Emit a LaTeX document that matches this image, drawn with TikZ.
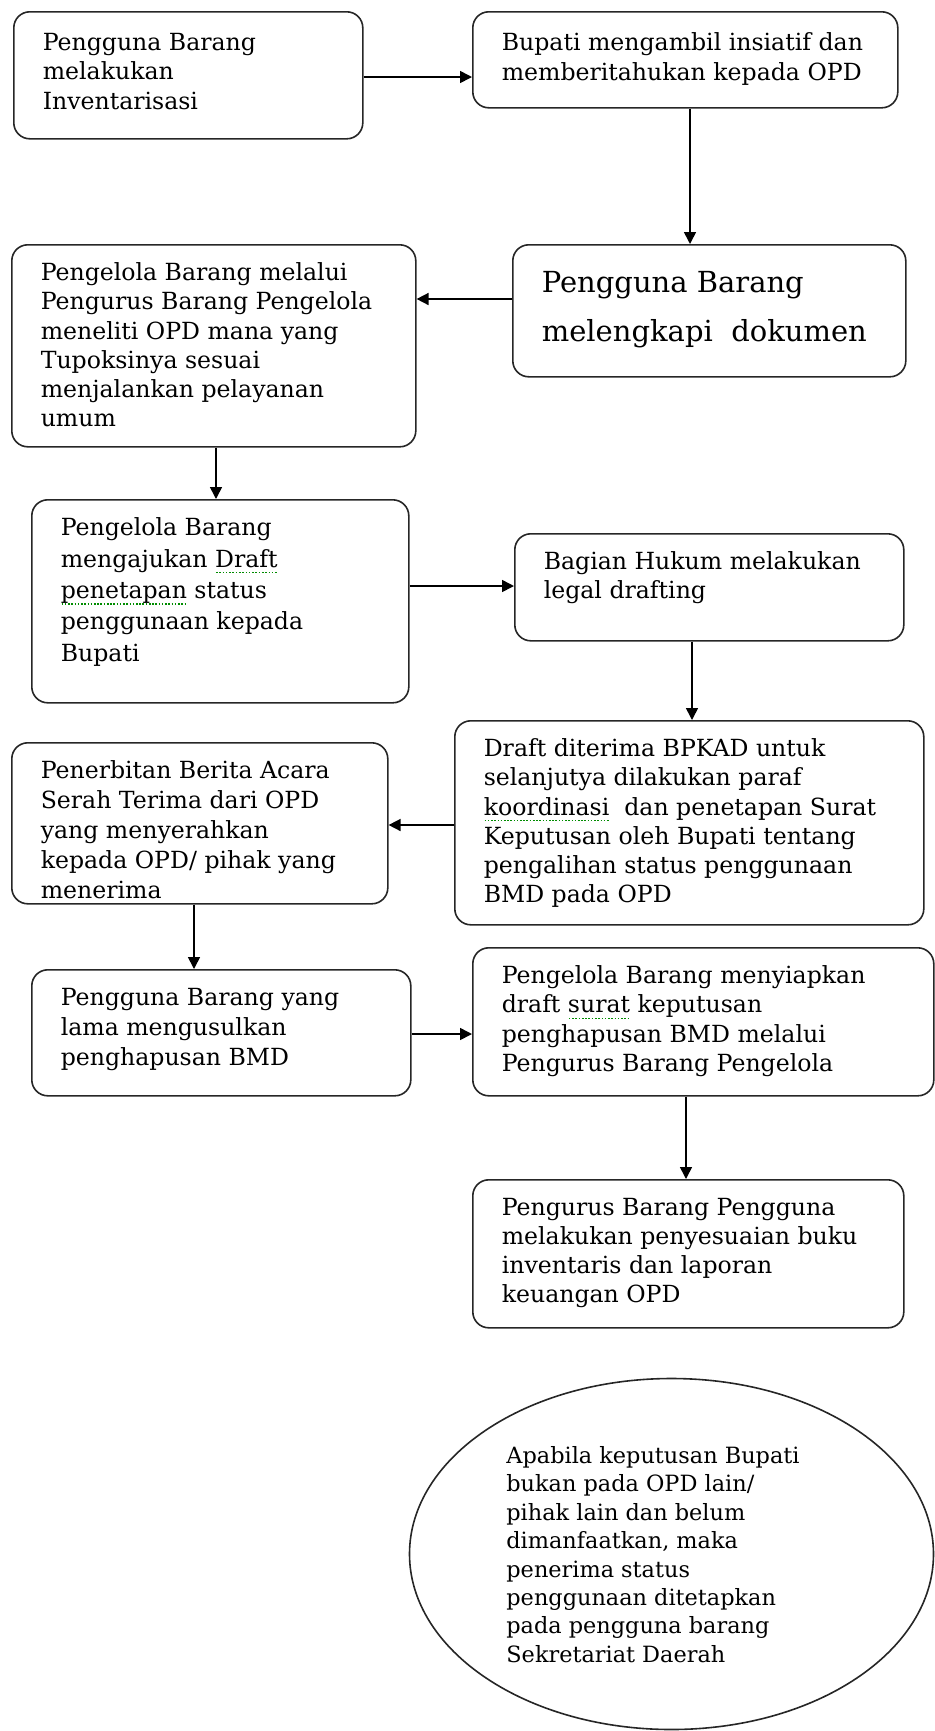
\documentclass[tikz,border=0pt]{standalone}
\usepackage{fontspec}
\setmainfont{DejaVu Serif}
\usetikzlibrary{arrows.meta,shapes.geometric}

% green spell-check underline
\newcommand{\spell}[1]{\setbox0\hbox{#1}\rlap{\raisebox{-3pt}{\textcolor{green!55!black}{\hbox to \wd0{\xleaders\hbox to 1.6pt{\hss\rule{0.8pt}{0.6pt}\hss}\hfill}}}}#1}

\tikzset{
  stepbox/.style={draw=black!85, line width=0.8pt, rounded corners=8pt,
    anchor=north west, inner xsep=14.5pt, inner ysep=9pt,
    font=\fontsize{11.8}{14.6}\selectfont},
  flow/.style={-{Triangle[length=6pt,width=6pt]}, line width=0.8pt},
}

\begin{document}
\begin{tikzpicture}[x=0.5pt,y=-0.5pt]
\useasboundingbox (0,0) rectangle (935,1731);

\node[stepbox, inner ysep=10.5pt, font=\fontsize{11.8}{14.9}\selectfont] (b1) at (13,11)
  {\parbox[t][42.5pt][t]{145.5pt}{Pengguna Barang\\melakukan\\Inventarisasi}};
\node[stepbox, inner ysep=10.5pt, font=\fontsize{11.8}{14.9}\selectfont] (b2) at (472,11)
  {\parbox[t][27pt][t]{183.5pt}{Bupati mengambil insiatif dan\\memberitahukan kepada OPD}};
\node[stepbox, inner ysep=13.5pt, font=\fontsize{14.5}{24.3}\selectfont] (b3) at (512,244)
  {\parbox[t][39pt][t]{167.5pt}{Pengguna Barang\\melengkapi\ \ dokumen}};
\node[stepbox] (b4) at (11,244)
  {\parbox[t][83pt][t]{173pt}{Pengelola Barang melalui\\Pengurus Barang Pengelola\\meneliti OPD mana yang\\Tupoksinya sesuai\\menjalankan pelayanan\\umum}};
\node[stepbox, font=\fontsize{11.8}{15.7}\selectfont] (b5) at (31,499)
  {\parbox[t][83.5pt][t]{159.5pt}{Pengelola Barang\\mengajukan \spell{Draft}\\\spell{penetapan} status\\penggunaan kepada\\Bupati}};
\node[stepbox] (b6) at (514,533)
  {\parbox[t][35.5pt][t]{165.5pt}{Bagian Hukum melakukan\\legal drafting}};
\node[stepbox] (b7) at (454,720)
  {\parbox[t][84pt][t]{205.5pt}{Draft diterima BPKAD untuk\\selanjutya dilakukan paraf\\\spell{koordinasi}\ \ dan penetapan Surat\\Keputusan oleh Bupati tentang\\pengalihan status penggunaan\\BMD pada OPD}};
\node[stepbox, font=\fontsize{11.8}{15}\selectfont] (b8) at (11,742)
  {\parbox[t][62.5pt][t]{159pt}{Penerbitan Berita Acara\\Serah Terima dari OPD\\yang menyerahkan\\kepada OPD/ pihak yang\\menerima}};
\node[stepbox, font=\fontsize{11.8}{15.2}\selectfont] (b9) at (31,969)
  {\parbox[t][45pt][t]{160.5pt}{Pengguna Barang yang\\lama mengusulkan\\penghapusan BMD}};
\node[stepbox] (b10) at (472,947)
  {\parbox[t][56pt][t]{201.5pt}{Pengelola Barang menyiapkan\\draft \spell{surat} keputusan\\penghapusan BMD melalui\\Pengurus Barang Pengelola}};
\node[stepbox] (b11) at (472,1179)
  {\parbox[t][56pt][t]{186.5pt}{Pengurus Barang Pengguna\\melakukan penyesuaian buku\\inventaris dan laporan\\keuangan OPD}};

\node[draw=black!85, line width=0.8pt, ellipse, inner sep=0pt,
  minimum width=262pt, minimum height=175.5pt] (note) at (671.5,1554) {};
\node[anchor=north west, inner sep=0pt, align=left,
  font=\fontsize{11.2}{14.2}\selectfont] (notetext) at (506,1446)
  {Apabila keputusan Bupati\\bukan pada OPD lain/\\pihak lain dan belum\\dimanfaatkan, maka\\penerima status\\penggunaan ditetapkan\\pada pengguna barang\\Sekretariat Daerah};

\draw[flow] (b1.east |- 0,77) -- (b2.west |- 0,77);
\draw[flow] (b2.south -| 690,0) -- (b3.north -| 690,0);
\draw[flow] (b3.west |- 0,299) -- (b4.east |- 0,299);
\draw[flow] (b4.south -| 216,0) -- (b5.north -| 216,0);
\draw[flow] (b5.east |- 0,586) -- (b6.west |- 0,586);
\draw[flow] (b6.south -| 692,0) -- (b7.north -| 692,0);
\draw[flow] (b7.west |- 0,825) -- (b8.east |- 0,825);
\draw[flow] (b8.south -| 194,0) -- (b9.north -| 194,0);
\draw[flow] (b9.east |- 0,1034) -- (b10.west |- 0,1034);
\draw[flow] (b10.south -| 686,0) -- (b11.north -| 686,0);
\end{tikzpicture}
\end{document}
